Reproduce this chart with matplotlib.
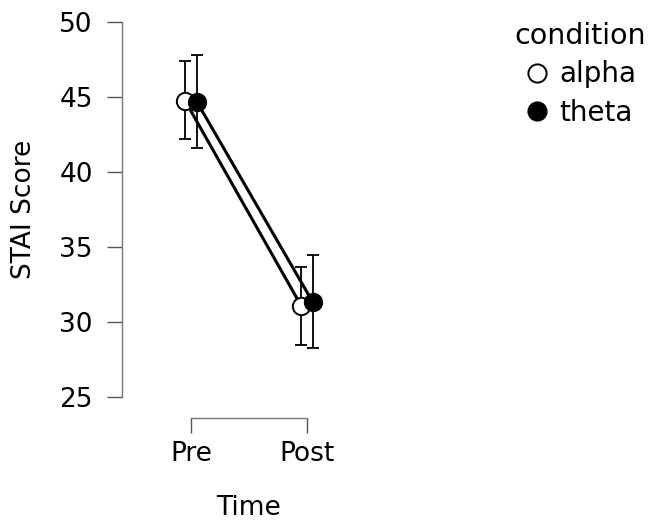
import matplotlib.pyplot as plt
import numpy as np

times = ['Pre', 'Post']
conditions = ['alpha', 'theta']
means = {'alpha': [44.75, 31.1], 'theta': [44.7, 31.35]}
lower = {'alpha': [42.2, 28.45], 'theta': [41.6, 28.25]}
upper = {'alpha': [47.4, 33.7], 'theta': [47.8, 34.45]}
faces = {'alpha': 'white', 'theta': 'black'}

plt.rcParams['font.family'] = ['DejaVu Sans']

fig = plt.figure(figsize=(6.49, 5.22), dpi=100)
ax = fig.add_axes([0.205, 0.2395, 0.357, 0.718])

x = np.arange(len(times))
dodge = {'alpha': -0.05, 'theta': 0.05}
for c in conditions:
    m = np.array(means[c])
    lo = m - np.array(lower[c])
    hi = np.array(upper[c]) - m
    xs = x + dodge[c]
    ax.errorbar(xs, m, yerr=[lo, hi], fmt='none', ecolor='black',
                elinewidth=1.3, capsize=4, capthick=1.3, zorder=2)
    ax.plot(xs, m, color='black', lw=2.2, zorder=3)
    ax.plot(xs, m, 'o', ms=12.5, mfc=faces[c], mec='black', mew=1.4,
            zorder=4, label=c, linestyle='none')

ax.set_xlim(-0.5, 1.5)
ax.set_ylim(25, 50)
ax.set_yticks([25, 30, 35, 40, 45, 50])
ax.set_xticks(x)
ax.set_xticklabels(times)

for s in ['top', 'right']:
    ax.spines[s].set_visible(False)
ax.spines['left'].set_position(('outward', 8))
ax.spines['bottom'].set_position(('outward', 15))
ax.spines['left'].set_bounds(25, 50)
ax.spines['bottom'].set_bounds(0, 1)
for s in ['left', 'bottom']:
    ax.spines[s].set_color('#777777')
    ax.spines[s].set_linewidth(1)
ax.tick_params(axis='both', colors='#555555', labelcolor='black',
               labelsize=19, length=11, width=1)
ax.tick_params(axis='y', pad=10)
ax.tick_params(axis='x', pad=6)

ax.set_ylabel('STAI Score', fontsize=19, labelpad=16)
ax.set_xlabel('Time', fontsize=19, labelpad=20)

leg = fig.legend(loc='upper left', bbox_to_anchor=(0.792, 0.958),
                 frameon=False, title='condition', fontsize=20,
                 title_fontsize=20.5, handletextpad=0.3, handlelength=1.0,
                 labelspacing=0.38, borderaxespad=0, borderpad=0,
                 markerscale=1.05)

fig.savefig('out.png', dpi=100)
